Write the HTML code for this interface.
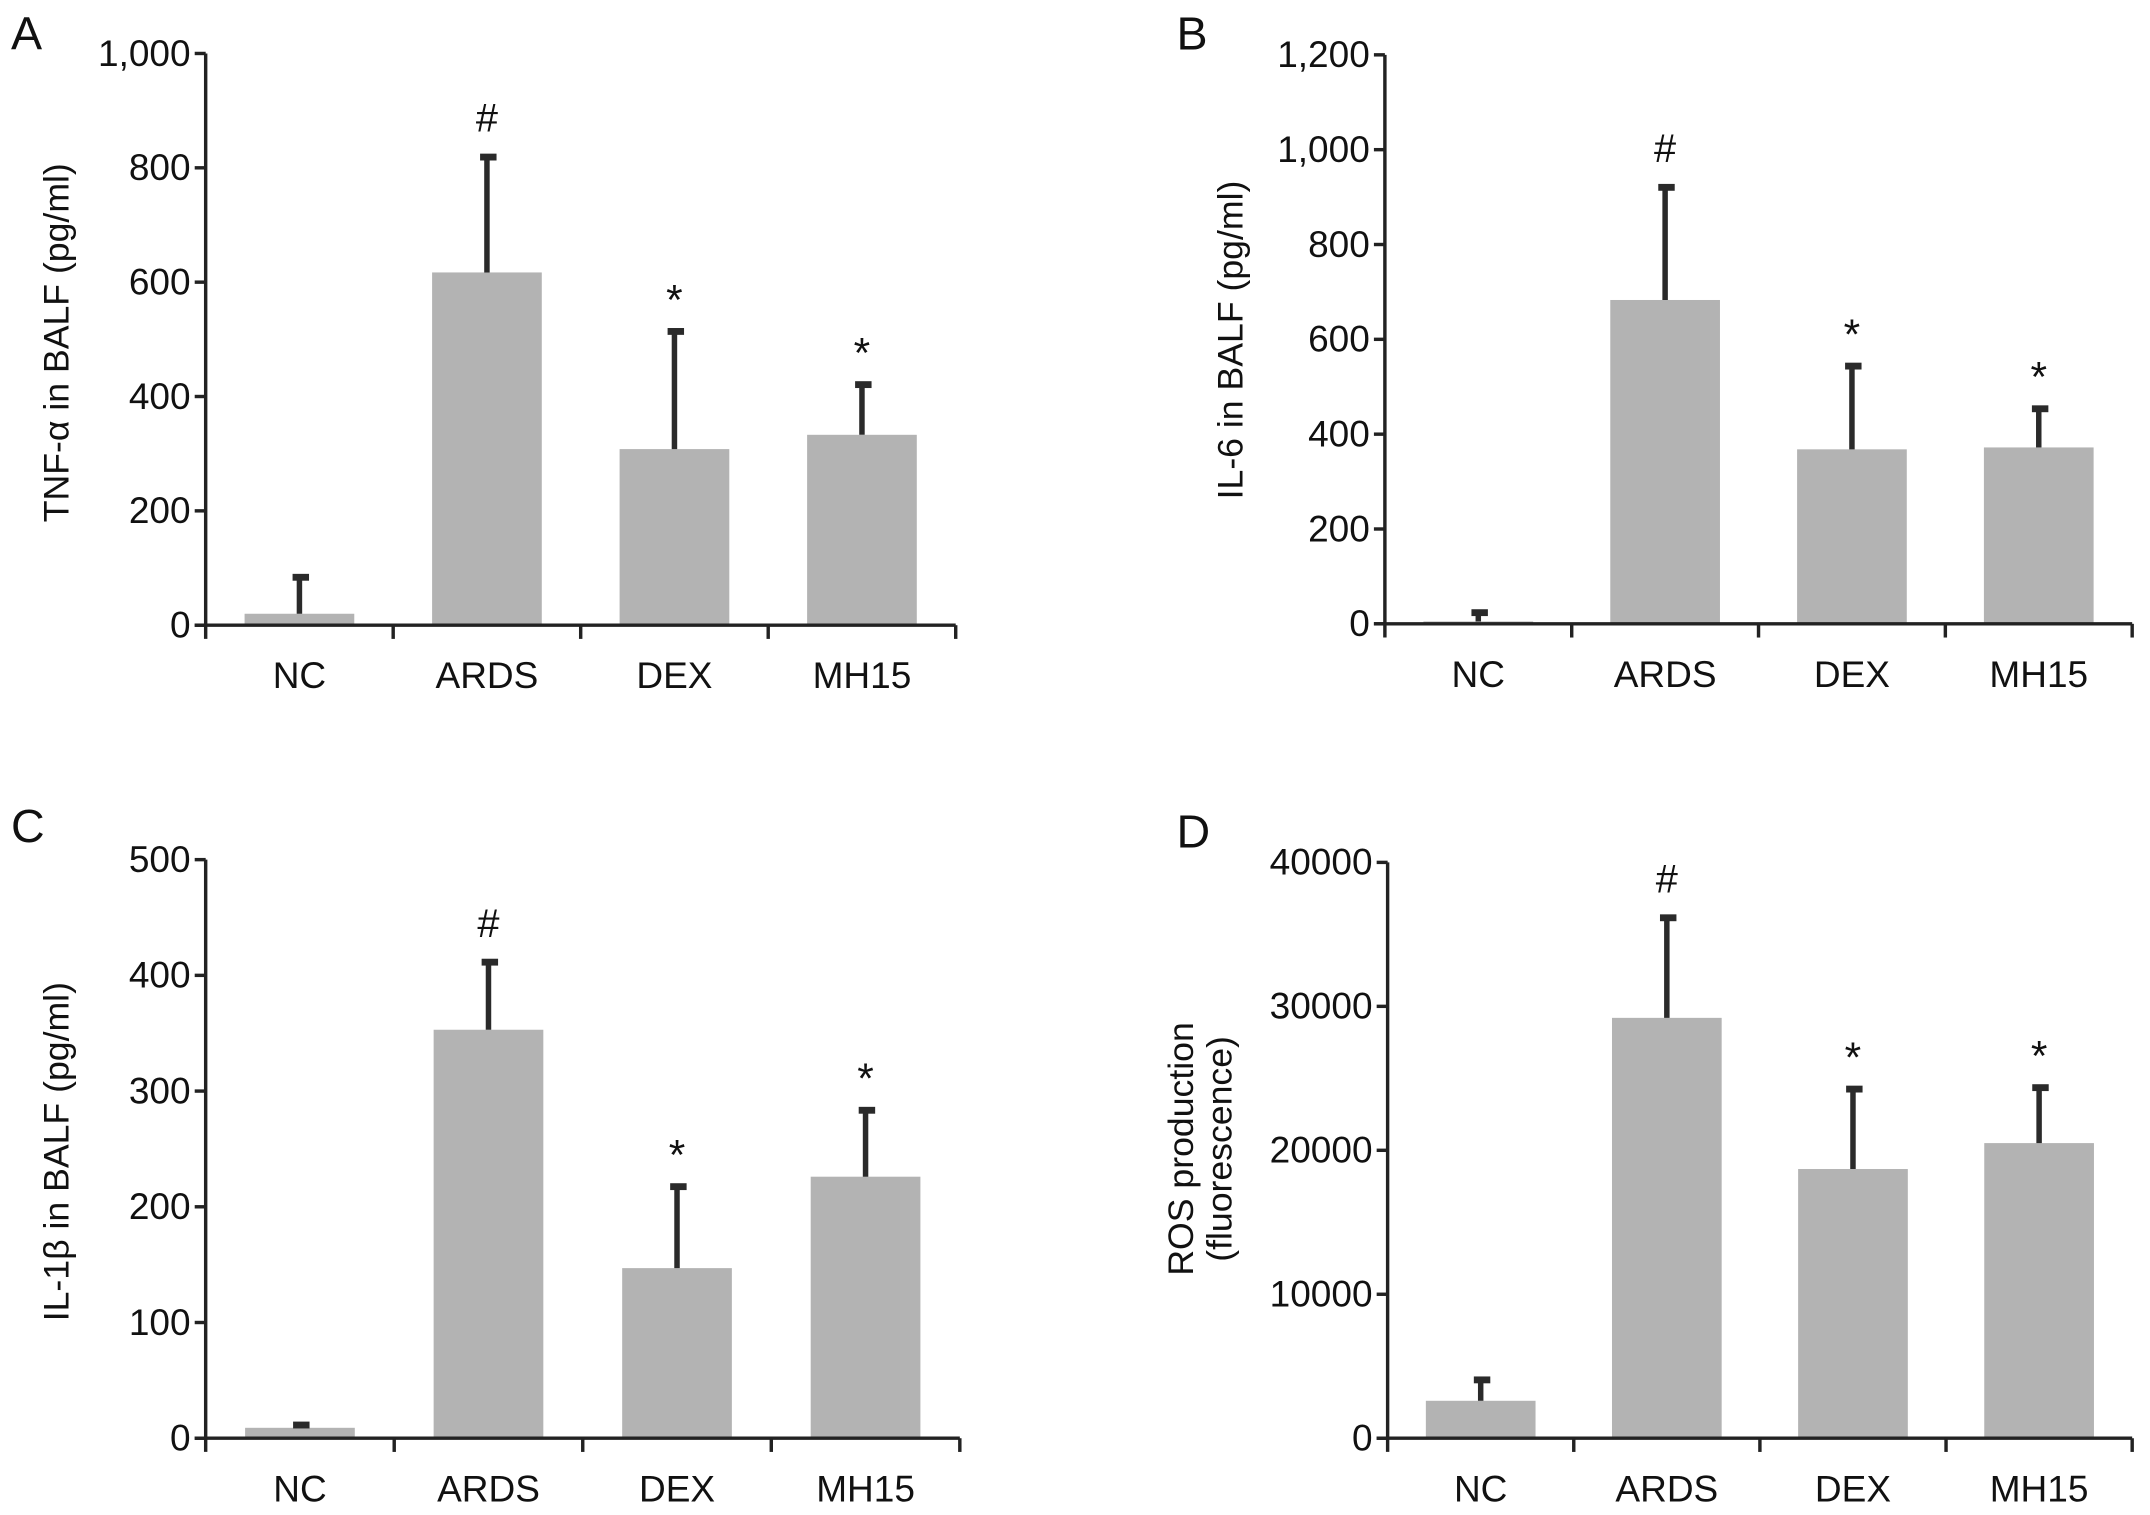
<!DOCTYPE html>
<html><head><meta charset="utf-8"><style>
html,body{margin:0;padding:0;background:#fff;}
svg{display:block;font-family:"Liberation Sans",Arial,sans-serif;}
</style></head><body>
<svg id="fig" width="2150" height="1515" viewBox="0 0 1568 1105" preserveAspectRatio="none" xmlns="http://www.w3.org/2000/svg"></svg>
<script>
const categories = ["NC","ARDS","DEX","MH15"];
const tnfValues = [20, 617, 308, 333];
const tnfErrors = [85, 820, 515, 422];
const tnfTicks = [0,200,400,600,800,1000];
const tnfTickLabels = ["0","200","400","600","800","1,000"];
const il6Values = [5, 683, 368, 372];
const il6Errors = [25, 922, 545, 455];
const il6Ticks = [0,200,400,600,800,1000,1200];
const il6TickLabels = ["0","200","400","600","800","1,000","1,200"];
const il1Values = [9, 353, 147, 226];
const il1Errors = [12, 412, 218, 284];
const il1Ticks = [0,100,200,300,400,500];
const il1TickLabels = ["0","100","200","300","400","500"];
const rosValues = [2600, 29200, 18700, 20500];
const rosErrors = [4100, 36200, 24300, 24400];
const rosTicks = [0,10000,20000,30000,40000];
const rosTickLabels = ["0","10000","20000","30000","40000"];
const marks = ["", "#", "*", "*"];

const NS = "http://www.w3.org/2000/svg";
const svg = document.getElementById("fig");
function mk(tag, attrs, parent){
  const e = document.createElementNS(NS, tag);
  for (const k in attrs) e.setAttribute(k, attrs[k]);
  (parent||svg).appendChild(e);
  return e;
}

function panel(cfg){
  const g = mk("g", {});
  
  
  const x0 = cfg.x0, x1 = cfg.x1, y0 = cfg.y0, yTop = cfg.yTop;
  const maxV = cfg.ticks[cfg.ticks.length-1];
  const yS = v => y0 - (v / maxV) * (y0 - yTop);
  const step = (x1 - x0) / categories.length;
  const xC = i => x0 + step * (i + 0.5);

  const lt = mk("text", {x: cfg.lx, y: cfg.ly, "font-size": 34, fill: "#111"}, g);
  lt.textContent = cfg.letter;
  
  

  categories.forEach((c, i) => {
    const v = cfg.values[i], e = cfg.errors[i];
    const bw = 80;
    const r = mk("rect", {x: xC(i) - bw/2, y: yS(v), width: bw, height: y0 - yS(v), fill: "#b3b3b3"}, g);
    
    
    const el = mk("line", {x1: xC(i), x2: xC(i), y1: yS(v), y2: yS(e), stroke: "#2a2a2a", "stroke-width": 4}, g);
    
    
    const cap = mk("rect", {x: xC(i) - 5, y: yS(e) - 2, width: 12, height: 5, fill: "#2a2a2a"}, g);
    
    
    if (marks[i]) {
      const m = mk("text", {x: xC(i), y: yS(e) - (marks[i] === "#" ? 18 : 12), "font-size": marks[i] === "#" ? 29 : 31, "text-anchor": "middle", fill: "#111"}, g);
      m.textContent = marks[i];
      
      
    }
    const t = mk("text", {x: xC(i), y: y0 + 46, "font-size": 27, "text-anchor": "middle", fill: "#111"}, g);
    t.textContent = c;
    
    
  });

  const ya = mk("line", {x1: x0, x2: x0, y1: yTop, y2: y0 + 10, stroke: "#222", "stroke-width": 2.5}, g);
  
  
  const xa = mk("line", {x1: x0 - 8, x2: x1, y1: y0, y2: y0, stroke: "#222", "stroke-width": 2.5}, g);
  
  
  for (let i = 1; i <= categories.length; i++) {
    const tk = mk("line", {x1: x0 + step*i, x2: x0 + step*i, y1: y0, y2: y0 + 10, stroke: "#222", "stroke-width": 2.5}, g);
    
    
  }
  cfg.ticks.forEach((v, i) => {
    const tk = mk("line", {x1: x0 - 8, x2: x0, y1: yS(v), y2: yS(v), stroke: "#222", "stroke-width": 2.5}, g);
    
    
    const t = mk("text", {x: x0 - 11, y: yS(v) + 9, "font-size": 27, "text-anchor": "end", fill: "#111"}, g);
    t.textContent = cfg.tickLabels[i];
    
    
  });

  cfg.title.forEach((line, k) => {
    const tx = cfg.tx + k * 28;
    const t = mk("text", {x: tx, y: cfg.ty, "font-size": 26, "text-anchor": "middle", fill: "#111", transform: `rotate(-90 ${tx} ${cfg.ty})`}, g);
    t.textContent = line;
    
    
  });
}

panel({name:"panel-a", letter:"A", lx:8, ly:36, x0:150, x1:697, y0:456, yTop:39, values:tnfValues, errors:tnfErrors, ticks:tnfTicks, tickLabels:tnfTickLabels, title:["TNF-\u03b1 in BALF (pg/ml)"], tx:50, ty:250});
panel({name:"panel-b", letter:"B", lx:858, ly:36, x0:1010, x1:1555, y0:455, yTop:40, values:il6Values, errors:il6Errors, ticks:il6Ticks, tickLabels:il6TickLabels, title:["IL-6 in BALF (pg/ml)"], tx:906, ty:248});
panel({name:"panel-c", letter:"C", lx:8, ly:614, x0:150, x1:700, y0:1049, yTop:627, values:il1Values, errors:il1Errors, ticks:il1Ticks, tickLabels:il1TickLabels, title:["IL-1\u03b2 in BALF (pg/ml)"], tx:50, ty:840});
panel({name:"panel-d", letter:"D", lx:858, ly:618, x0:1012, x1:1555, y0:1049, yTop:629, values:rosValues, errors:rosErrors, ticks:rosTicks, tickLabels:rosTickLabels, title:["ROS production","(fluorescence)"], tx:870, ty:838});
</script>
</body></html>
